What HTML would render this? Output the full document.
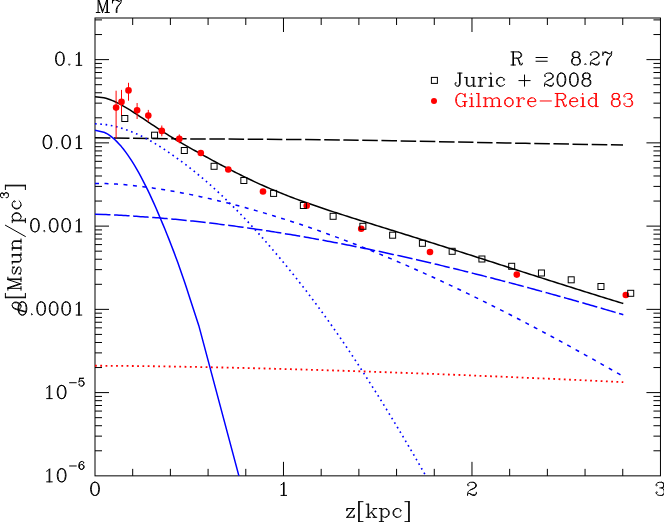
<!DOCTYPE html>
<html><head><meta charset="utf-8"><title>M7</title>
<style>html,body{margin:0;padding:0;background:#fff;}body{width:664px;height:522px;position:relative;overflow:hidden;font-family:"Liberation Serif",serif;}</style>
</head><body>
<svg width="664" height="522" viewBox="0 0 664 522" style="position:absolute;left:0;top:0">
<rect x="0" y="0" width="664" height="522" fill="#fff"/>
<defs><clipPath id="c"><rect x="95.0" y="18.0" width="565.45" height="457.85"/></clipPath></defs>
<path d="M132.70,475.85v-7 M132.70,18.0v7 M170.39,475.85v-7 M170.39,18.0v7 M208.09,475.85v-7 M208.09,18.0v7 M245.79,475.85v-7 M245.79,18.0v7 M283.48,475.85v-14 M283.48,18.0v14 M321.18,475.85v-7 M321.18,18.0v7 M358.88,475.85v-7 M358.88,18.0v7 M396.57,475.85v-7 M396.57,18.0v7 M434.27,475.85v-7 M434.27,18.0v7 M471.97,475.85v-14 M471.97,18.0v14 M509.66,475.85v-7 M509.66,18.0v7 M547.36,475.85v-7 M547.36,18.0v7 M585.06,475.85v-7 M585.06,18.0v7 M622.75,475.85v-7 M622.75,18.0v7 M95.0,450.79h7 M660.45,450.79h-7 M95.0,436.13h7 M660.45,436.13h-7 M95.0,425.73h7 M660.45,425.73h-7 M95.0,417.66h7 M660.45,417.66h-7 M95.0,411.07h7 M660.45,411.07h-7 M95.0,405.50h7 M660.45,405.50h-7 M95.0,400.67h7 M660.45,400.67h-7 M95.0,396.41h7 M660.45,396.41h-7 M95.0,392.60h14 M660.45,392.60h-14 M95.0,367.55h7 M660.45,367.55h-7 M95.0,352.89h7 M660.45,352.89h-7 M95.0,342.49h7 M660.45,342.49h-7 M95.0,334.42h7 M660.45,334.42h-7 M95.0,327.83h7 M660.45,327.83h-7 M95.0,322.25h7 M660.45,322.25h-7 M95.0,317.43h7 M660.45,317.43h-7 M95.0,313.17h7 M660.45,313.17h-7 M95.0,309.36h14 M660.45,309.36h-14 M95.0,284.30h7 M660.45,284.30h-7 M95.0,269.64h7 M660.45,269.64h-7 M95.0,259.24h7 M660.45,259.24h-7 M95.0,251.17h7 M660.45,251.17h-7 M95.0,244.58h7 M660.45,244.58h-7 M95.0,239.01h7 M660.45,239.01h-7 M95.0,234.18h7 M660.45,234.18h-7 M95.0,229.92h7 M660.45,229.92h-7 M95.0,226.11h14 M660.45,226.11h-14 M95.0,201.05h7 M660.45,201.05h-7 M95.0,186.40h7 M660.45,186.40h-7 M95.0,175.99h7 M660.45,175.99h-7 M95.0,167.93h7 M660.45,167.93h-7 M95.0,161.34h7 M660.45,161.34h-7 M95.0,155.76h7 M660.45,155.76h-7 M95.0,150.94h7 M660.45,150.94h-7 M95.0,146.68h7 M660.45,146.68h-7 M95.0,142.87h14 M660.45,142.87h-14 M95.0,117.81h7 M660.45,117.81h-7 M95.0,103.15h7 M660.45,103.15h-7 M95.0,92.75h7 M660.45,92.75h-7 M95.0,84.68h7 M660.45,84.68h-7 M95.0,78.09h7 M660.45,78.09h-7 M95.0,72.52h7 M660.45,72.52h-7 M95.0,67.69h7 M660.45,67.69h-7 M95.0,63.43h7 M660.45,63.43h-7 M95.0,59.62h14 M660.45,59.62h-14 M95.0,34.56h7 M660.45,34.56h-7 M95.0,19.90h7 M660.45,19.90h-7" stroke="#000" stroke-width="1" fill="none"/>
<rect x="95.0" y="18.0" width="565.45" height="457.85" fill="none" stroke="#000" stroke-width="1"/>
<g clip-path="url(#c)" fill="none">
<path d="M95.00,137.80 C109.17,137.97 138.17,138.43 180.00,138.80 C221.83,139.17 291.67,139.30 346.00,140.00 C400.33,140.70 459.83,142.17 506.00,143.00 C552.17,143.83 603.50,144.67 623.00,145.00" stroke="#000" stroke-width="1.5" stroke-dasharray="15.5 3.6"/>
<path d="M95.00,365.74 L103.80,365.77 L105.98,365.78 L108.15,365.79 L110.32,365.80 L112.50,365.82 L114.67,365.83 L116.84,365.85 L119.02,365.87 L121.19,365.88 L123.36,365.90 L125.54,365.92 L127.71,365.94 L129.89,365.97 L132.06,365.99 L134.23,366.01 L136.41,366.04 L138.58,366.06 L140.75,366.09 L142.93,366.11 L145.10,366.14 L147.27,366.17 L149.45,366.20 L151.62,366.23 L153.80,366.26 L155.97,366.29 L158.14,366.32 L160.32,366.35 L162.49,366.38 L164.66,366.42 L166.84,366.45 L169.01,366.49 L171.18,366.52 L173.36,366.56 L175.53,366.59 L177.71,366.63 L179.88,366.67 L182.05,366.70 L184.23,366.74 L186.40,366.78 L188.57,366.82 L190.75,366.86 L192.92,366.90 L195.09,366.94 L197.27,366.98 L199.44,367.02 L201.62,367.07 L203.79,367.11 L205.96,367.15 L208.14,367.20 L210.31,367.24 L212.48,367.29 L214.66,367.33 L216.83,367.38 L219.00,367.42 L221.18,367.47 L223.35,367.52 L225.53,367.57 L227.70,367.61 L229.87,367.66 L232.05,367.71 L234.22,367.76 L236.39,367.81 L238.57,367.86 L240.74,367.91 L242.91,367.96 L245.09,368.01 L247.26,368.07 L249.44,368.12 L251.61,368.17 L253.78,368.23 L255.96,368.28 L258.13,368.33 L260.30,368.39 L262.48,368.44 L264.65,368.50 L266.82,368.55 L269.00,368.61 L271.17,368.67 L273.35,368.73 L275.52,368.78 L277.69,368.84 L279.87,368.90 L282.04,368.96 L284.21,369.02 L286.39,369.08 L288.56,369.14 L290.73,369.20 L292.91,369.26 L295.08,369.32 L297.26,369.38 L299.43,369.44 L301.60,369.51 L303.78,369.57 L305.95,369.63 L308.12,369.70 L310.30,369.76 L312.47,369.82 L314.64,369.89 L316.82,369.95 L318.99,370.02 L321.17,370.09 L323.34,370.15 L325.51,370.22 L327.69,370.29 L329.86,370.35 L332.03,370.42 L334.21,370.49 L336.38,370.56 L338.55,370.63 L340.73,370.70 L342.90,370.77 L345.08,370.84 L347.25,370.91 L349.42,370.98 L351.60,371.05 L353.77,371.12 L355.94,371.19 L358.12,371.26 L360.29,371.34 L362.46,371.41 L364.64,371.48 L366.81,371.56 L368.99,371.63 L371.16,371.70 L373.33,371.78 L375.51,371.85 L377.68,371.93 L379.85,372.00 L382.03,372.08 L384.20,372.15 L386.37,372.23 L388.55,372.31 L390.72,372.38 L392.90,372.46 L395.07,372.54 L397.24,372.61 L399.42,372.69 L401.59,372.77 L403.76,372.85 L405.94,372.93 L408.11,373.01 L410.28,373.09 L412.46,373.17 L414.63,373.25 L416.81,373.33 L418.98,373.41 L421.15,373.49 L423.33,373.57 L425.50,373.65 L427.67,373.74 L429.85,373.82 L432.02,373.90 L434.19,373.98 L436.37,374.07 L438.54,374.15 L440.71,374.23 L442.89,374.32 L445.06,374.40 L447.24,374.49 L449.41,374.57 L451.58,374.66 L453.76,374.74 L455.93,374.83 L458.10,374.92 L460.28,375.00 L462.45,375.09 L464.62,375.18 L466.80,375.26 L468.97,375.35 L471.15,375.44 L473.32,375.53 L475.49,375.61 L477.67,375.70 L479.84,375.79 L482.01,375.88 L484.19,375.97 L486.36,376.06 L488.53,376.15 L490.71,376.24 L492.88,376.33 L495.06,376.42 L497.23,376.51 L499.40,376.60 L501.58,376.69 L503.75,376.79 L505.92,376.88 L508.10,376.97 L510.27,377.06 L512.44,377.15 L514.62,377.25 L516.79,377.34 L518.97,377.43 L521.14,377.53 L523.31,377.62 L525.49,377.71 L527.66,377.81 L529.83,377.90 L532.01,378.00 L534.18,378.09 L536.35,378.19 L538.53,378.28 L540.70,378.38 L542.88,378.47 L545.05,378.57 L547.22,378.67 L549.40,378.76 L551.57,378.86 L553.74,378.96 L555.92,379.05 L558.09,379.15 L560.26,379.25 L562.44,379.35 L564.61,379.44 L566.79,379.54 L568.96,379.64 L571.13,379.74 L573.31,379.84 L575.48,379.94 L577.65,380.04 L579.83,380.14 L582.00,380.23 L584.17,380.33 L586.35,380.43 L588.52,380.53 L590.70,380.63 L592.87,380.74 L595.04,380.84 L597.22,380.94 L599.39,381.04 L601.56,381.14 L603.74,381.24 L605.91,381.34 L608.08,381.44 L610.26,381.55 L612.43,381.65 L614.61,381.75 L616.78,381.85 L618.95,381.95 L621.13,382.06 L623.30,382.16" stroke="#f00" stroke-width="1.8" stroke-dasharray="1.8 3.47"/>
<path d="M95.00,214.28 L103.80,214.50 L105.98,214.57 L108.15,214.65 L110.32,214.74 L112.50,214.84 L114.67,214.94 L116.84,215.05 L119.02,215.16 L121.19,215.29 L123.36,215.41 L125.54,215.55 L127.71,215.69 L129.89,215.83 L132.06,215.99 L134.23,216.14 L136.41,216.31 L138.58,216.47 L140.75,216.63 L142.93,216.77 L145.10,216.92 L147.27,217.06 L149.45,217.22 L151.62,217.37 L153.80,217.54 L155.97,217.70 L158.14,217.87 L160.32,218.04 L162.49,218.22 L164.66,218.41 L166.84,218.59 L169.01,218.78 L171.18,218.97 L173.36,219.17 L175.53,219.37 L177.71,219.58 L179.88,219.79 L182.05,220.00 L184.23,220.21 L186.40,220.43 L188.57,220.66 L190.75,220.88 L192.92,221.11 L195.09,221.34 L197.27,221.58 L199.44,221.82 L201.62,222.06 L203.79,222.31 L205.96,222.56 L208.14,222.81 L210.31,223.06 L212.48,223.32 L214.66,223.59 L216.83,223.85 L219.00,224.12 L221.18,224.39 L223.35,224.66 L225.53,224.94 L227.70,225.22 L229.87,225.51 L232.05,225.79 L234.22,226.08 L236.39,226.37 L238.57,226.67 L240.74,226.97 L242.91,227.27 L245.09,227.57 L247.26,227.88 L249.44,228.19 L251.61,228.50 L253.78,228.82 L255.96,229.14 L258.13,229.46 L260.30,229.78 L262.48,230.11 L264.65,230.44 L266.82,230.77 L269.00,231.11 L271.17,231.45 L273.35,231.79 L275.52,232.13 L277.69,232.48 L279.87,232.82 L282.04,233.18 L284.21,233.53 L286.39,233.89 L288.56,234.25 L290.73,234.61 L292.91,234.97 L295.08,235.34 L297.26,235.71 L299.43,236.08 L301.60,236.46 L303.78,236.84 L305.95,237.22 L308.12,237.60 L310.30,237.99 L312.47,238.37 L314.64,238.76 L316.82,239.16 L318.99,239.55 L321.17,239.95 L323.34,240.35 L325.51,240.75 L327.69,241.16 L329.86,241.57 L332.03,241.98 L334.21,242.39 L336.38,242.81 L338.55,243.22 L340.73,243.64 L342.90,244.07 L345.08,244.49 L347.25,244.92 L349.42,245.35 L351.60,245.78 L353.77,246.21 L355.94,246.65 L358.12,247.09 L360.29,247.53 L362.46,247.97 L364.64,248.42 L366.81,248.86 L368.99,249.31 L371.16,249.77 L373.33,250.22 L375.51,250.68 L377.68,251.14 L379.85,251.60 L382.03,252.06 L384.20,252.53 L386.37,252.99 L388.55,253.46 L390.72,253.93 L392.90,254.41 L395.07,254.88 L397.24,255.36 L399.42,255.84 L401.59,256.33 L403.76,256.81 L405.94,257.30 L408.11,257.79 L410.28,258.28 L412.46,258.77 L414.63,259.26 L416.81,259.76 L418.98,260.26 L421.15,260.76 L423.33,261.26 L425.50,261.77 L427.67,262.27 L429.85,262.78 L432.02,263.29 L434.19,263.81 L436.37,264.32 L438.54,264.84 L440.71,265.36 L442.89,265.88 L445.06,266.40 L447.24,266.92 L449.41,267.45 L451.58,267.98 L453.76,268.51 L455.93,269.04 L458.10,269.57 L460.28,270.11 L462.45,270.64 L464.62,271.18 L466.80,271.72 L468.97,272.27 L471.15,272.81 L473.32,273.36 L475.49,273.90 L477.67,274.45 L479.84,275.00 L482.01,275.56 L484.19,276.11 L486.36,276.67 L488.53,277.23 L490.71,277.79 L492.88,278.35 L495.06,278.91 L497.23,279.48 L499.40,280.04 L501.58,280.61 L503.75,281.18 L505.92,281.75 L508.10,282.32 L510.27,282.90 L512.44,283.47 L514.62,284.05 L516.79,284.63 L518.97,285.21 L521.14,285.79 L523.31,286.38 L525.49,286.96 L527.66,287.55 L529.83,288.14 L532.01,288.73 L534.18,289.32 L536.35,289.91 L538.53,290.51 L540.70,291.10 L542.88,291.70 L545.05,292.30 L547.22,292.90 L549.40,293.50 L551.57,294.10 L553.74,294.71 L555.92,295.31 L558.09,295.92 L560.26,296.53 L562.44,297.14 L564.61,297.75 L566.79,298.36 L568.96,298.98 L571.13,299.59 L573.31,300.21 L575.48,300.82 L577.65,301.44 L579.83,302.06 L582.00,302.69 L584.17,303.31 L586.35,303.93 L588.52,304.56 L590.70,305.18 L592.87,305.81 L595.04,306.44 L597.22,307.07 L599.39,307.70 L601.56,308.34 L603.74,308.97 L605.91,309.60 L608.08,310.24 L610.26,310.88 L612.43,311.52 L614.61,312.15 L616.78,312.80 L618.95,313.44 L621.13,314.08 L623.30,314.72" stroke="#00f" stroke-width="1.5" stroke-dasharray="15.5 3.6"/>
<path d="M95.00,183.38 L103.80,183.50 L105.98,183.57 L108.15,183.65 L110.32,183.75 L112.50,183.86 L114.67,183.98 L116.84,184.12 L119.02,184.27 L121.19,184.43 L123.36,184.60 L125.54,184.79 L127.71,184.99 L129.89,185.19 L132.06,185.41 L134.23,185.64 L136.41,185.88 L138.58,186.13 L140.75,186.39 L142.93,186.66 L145.10,186.94 L147.27,187.23 L149.45,187.52 L151.62,187.83 L153.80,188.14 L155.97,188.46 L158.14,188.79 L160.32,189.13 L162.49,189.47 L164.66,189.83 L166.84,190.19 L169.01,190.55 L171.18,190.93 L173.36,191.31 L175.53,191.70 L177.71,192.10 L179.88,192.50 L182.05,192.91 L184.23,193.33 L186.40,193.75 L188.57,194.19 L190.75,194.62 L192.92,195.07 L195.09,195.52 L197.27,195.98 L199.44,196.44 L201.62,196.91 L203.79,197.39 L205.96,197.87 L208.14,198.36 L210.31,198.85 L212.48,199.36 L214.66,199.86 L216.83,200.38 L219.00,200.90 L221.18,201.42 L223.35,201.95 L225.53,202.49 L227.70,203.03 L229.87,203.58 L232.05,204.14 L234.22,204.70 L236.39,205.27 L238.57,205.84 L240.74,206.42 L242.91,207.00 L245.09,207.59 L247.26,208.19 L249.44,208.79 L251.61,209.39 L253.78,210.00 L255.96,210.62 L258.13,211.24 L260.30,211.87 L262.48,212.51 L264.65,213.14 L266.82,213.79 L269.00,214.44 L271.17,215.09 L273.35,215.75 L275.52,216.42 L277.69,217.09 L279.87,217.77 L282.04,218.45 L284.21,219.13 L286.39,219.82 L288.56,220.52 L290.73,221.22 L292.91,221.93 L295.08,222.64 L297.26,223.36 L299.43,224.08 L301.60,224.81 L303.78,225.54 L305.95,226.28 L308.12,227.02 L310.30,227.77 L312.47,228.52 L314.64,229.28 L316.82,230.04 L318.99,230.80 L321.17,231.57 L323.34,232.35 L325.51,233.13 L327.69,233.92 L329.86,234.71 L332.03,235.50 L334.21,236.30 L336.38,237.11 L338.55,237.91 L340.73,238.73 L342.90,239.55 L345.08,240.37 L347.25,241.20 L349.42,242.03 L351.60,242.86 L353.77,243.70 L355.94,244.55 L358.12,245.40 L360.29,246.25 L362.46,247.11 L364.64,247.98 L366.81,248.84 L368.99,249.72 L371.16,250.59 L373.33,251.47 L375.51,252.36 L377.68,253.25 L379.85,254.14 L382.03,255.04 L384.20,255.94 L386.37,256.84 L388.55,257.75 L390.72,258.67 L392.90,259.59 L395.07,260.51 L397.24,261.44 L399.42,262.37 L401.59,263.30 L403.76,264.24 L405.94,265.18 L408.11,266.13 L410.28,267.08 L412.46,268.04 L414.63,268.99 L416.81,269.96 L418.98,270.92 L421.15,271.89 L423.33,272.87 L425.50,273.85 L427.67,274.83 L429.85,275.81 L432.02,276.80 L434.19,277.80 L436.37,278.79 L438.54,279.80 L440.71,280.80 L442.89,281.81 L445.06,282.82 L447.24,283.84 L449.41,284.86 L451.58,285.88 L453.76,286.90 L455.93,287.93 L458.10,288.97 L460.28,290.01 L462.45,291.05 L464.62,292.09 L466.80,293.14 L468.97,294.19 L471.15,295.24 L473.32,296.30 L475.49,297.36 L477.67,298.43 L479.84,299.49 L482.01,300.57 L484.19,301.64 L486.36,302.72 L488.53,303.80 L490.71,304.88 L492.88,305.97 L495.06,307.06 L497.23,308.16 L499.40,309.26 L501.58,310.36 L503.75,311.46 L505.92,312.57 L508.10,313.68 L510.27,314.79 L512.44,315.91 L514.62,317.03 L516.79,318.15 L518.97,319.27 L521.14,320.40 L523.31,321.53 L525.49,322.67 L527.66,323.80 L529.83,324.94 L532.01,326.09 L534.18,327.23 L536.35,328.38 L538.53,329.53 L540.70,330.69 L542.88,331.84 L545.05,333.00 L547.22,334.17 L549.40,335.33 L551.57,336.50 L553.74,337.67 L555.92,338.85 L558.09,340.02 L560.26,341.20 L562.44,342.38 L564.61,343.57 L566.79,344.75 L568.96,345.94 L571.13,347.13 L573.31,348.33 L575.48,349.53 L577.65,350.72 L579.83,351.93 L582.00,353.13 L584.17,354.34 L586.35,355.55 L588.52,356.76 L590.70,357.97 L592.87,359.19 L595.04,360.41 L597.22,361.63 L599.39,362.85 L601.56,364.08 L603.74,365.31 L605.91,366.54 L608.08,367.77 L610.26,369.00 L612.43,370.24 L614.61,371.48 L616.78,372.72 L618.95,373.96 L621.13,375.21 L623.30,376.46" stroke="#00f" stroke-width="1.5" stroke-dasharray="4.0 5.5"/>
<path d="M95.00,123.78 L103.80,124.34 L105.98,124.63 L108.15,124.97 L110.32,125.36 L112.50,125.81 L114.67,126.31 L116.84,126.86 L119.02,127.46 L121.19,128.11 L123.36,128.81 L125.54,129.55 L127.71,130.32 L129.89,131.14 L132.06,132.00 L134.23,132.90 L136.41,133.84 L138.58,134.81 L140.75,135.83 L142.93,136.88 L145.10,137.97 L147.27,139.09 L149.45,140.24 L151.62,141.48 L153.80,142.76 L155.97,144.08 L158.14,145.42 L160.32,146.80 L162.49,148.21 L164.66,149.64 L166.84,151.11 L169.01,152.61 L171.18,154.13 L173.36,155.68 L175.53,157.25 L177.71,158.79 L179.88,160.35 L182.05,161.94 L184.23,163.56 L186.40,165.21 L188.57,166.88 L190.75,168.58 L192.92,170.30 L195.09,172.05 L197.27,173.82 L199.44,175.62 L201.62,177.44 L203.79,179.29 L205.96,181.16 L208.14,183.06 L210.31,184.98 L212.48,186.92 L214.66,188.89 L216.83,190.88 L219.00,192.90 L221.18,194.93 L223.35,196.99 L225.53,199.08 L227.70,201.18 L229.87,203.31 L232.05,205.47 L234.22,207.64 L236.39,209.84 L238.57,212.06 L240.74,214.30 L242.91,216.56 L245.09,218.84 L247.26,221.15 L249.44,223.48 L251.61,225.83 L253.78,228.20 L255.96,230.59 L258.13,233.01 L260.30,235.44 L262.48,237.90 L264.65,240.37 L266.82,242.87 L269.00,245.39 L271.17,247.91 L273.35,250.42 L275.52,252.96 L277.69,255.52 L279.87,258.10 L282.04,260.70 L284.21,263.32 L286.39,265.96 L288.56,268.62 L290.73,271.30 L292.91,274.00 L295.08,276.72 L297.26,279.45 L299.43,282.21 L301.60,284.99 L303.78,287.79 L305.95,290.60 L308.12,293.44 L310.30,296.29 L312.47,299.16 L314.64,302.06 L316.82,304.97 L318.99,307.93 L321.17,310.91 L323.34,313.91 L325.51,316.92 L327.69,319.96 L329.86,323.01 L332.03,326.09 L334.21,329.18 L336.38,332.29 L338.55,335.41 L340.73,338.56 L342.90,341.73 L345.08,344.94 L347.25,348.16 L349.42,351.40 L351.60,354.66 L353.77,357.94 L355.94,361.23 L358.12,364.54 L360.29,367.87 L362.46,371.21 L364.64,374.58 L366.81,377.96 L368.99,381.35 L371.16,384.76 L373.33,388.19 L375.51,391.64 L377.68,395.10 L379.85,398.58 L382.03,402.08 L384.20,405.59 L386.37,409.12 L388.55,412.66 L390.72,416.22 L392.90,419.79 L395.07,423.39 L397.24,426.99 L399.42,430.62 L401.59,434.26 L403.76,437.91 L405.94,441.58 L408.11,445.27 L410.28,448.97 L412.46,452.68 L414.63,456.42 L416.81,460.16 L418.98,463.93 L421.15,467.70 L423.33,471.50 L425.50,475.30 L427.67,479.11 L429.85,482.93 L432.02,486.77 L434.19,490.62 L436.37,494.48 L438.54,498.36 L440.71,502.26" stroke="#00f" stroke-width="1.65" stroke-dasharray="1.65 3.65"/>
<path d="M95.00,130.30 L103.80,132.18 L105.98,133.22 L108.15,134.47 L110.32,135.94 L112.50,137.63 L114.67,139.52 L116.84,141.61 L119.02,143.90 L121.19,146.37 L123.36,149.04 L125.54,151.88 L127.71,154.90 L129.89,158.09 L132.06,161.44 L134.23,164.95 L136.41,168.62 L138.58,172.45 L140.75,176.42 L142.93,180.53 L145.10,184.79 L147.27,189.18 L149.45,193.70 L151.62,198.36 L153.80,203.15 L155.97,208.07 L158.14,213.10 L160.32,218.24 L162.49,223.34 L164.66,228.57 L166.84,233.91 L169.01,239.36 L171.18,244.93 L173.36,250.61 L175.53,256.40 L177.71,262.29 L179.88,268.39 L182.05,274.67 L184.23,281.06 L186.40,287.55 L188.57,294.15 L190.60,300.40 L198.75,325.40 L238.90,475.85 L242.90,490.80" stroke="#00f" stroke-width="1.5" stroke-linejoin="round"/>
<path d="M95.00,96.77 L103.80,97.80 L105.98,98.34 L108.15,99.00 L110.32,99.75 L112.50,100.60 L114.67,101.54 L116.84,102.55 L119.02,103.65 L121.19,104.81 L123.36,106.03 L125.54,107.30 L127.71,108.61 L129.89,109.96 L132.06,111.34 L134.23,112.75 L136.41,114.17 L138.58,115.61 L140.75,117.05 L142.93,118.49 L145.10,119.94 L147.27,121.38 L149.45,122.82 L151.62,124.28 L153.80,125.73 L155.97,127.18 L158.14,128.61 L160.32,130.02 L162.49,131.42 L164.66,132.80 L166.84,134.17 L169.01,135.53 L171.18,136.88 L173.36,138.21 L175.53,139.53 L177.71,140.81 L179.88,142.08 L182.05,143.34 L184.23,144.59 L186.40,145.84 L188.57,147.08 L190.75,148.31 L192.92,149.53 L195.09,150.75 L197.27,151.97 L199.44,153.18 L201.62,154.38 L203.79,155.58 L205.96,156.77 L208.14,157.96 L210.31,159.15 L212.48,160.32 L214.66,161.50 L216.83,162.66 L219.00,163.83 L221.18,164.98 L223.35,166.13 L225.53,167.27 L227.70,168.40 L229.87,169.53 L232.05,170.65 L234.22,171.76 L236.39,172.86 L238.57,173.95 L240.74,175.03 L242.91,176.10 L245.09,177.16 L247.26,178.22 L249.44,179.26 L251.61,180.29 L253.78,181.31 L255.96,182.32 L258.13,183.32 L260.30,184.31 L262.48,185.28 L264.65,186.25 L266.82,187.20 L269.00,188.14 L271.17,189.07 L273.35,189.98 L275.52,190.89 L277.69,191.78 L279.87,192.66 L282.04,193.54 L284.21,194.40 L286.39,195.26 L288.56,196.10 L290.73,196.94 L292.91,197.77 L295.08,198.59 L297.26,199.40 L299.43,200.20 L301.60,200.99 L303.78,201.77 L305.95,202.55 L308.12,203.32 L310.30,204.08 L312.47,204.83 L314.64,205.58 L316.82,206.32 L318.99,207.06 L321.17,207.80 L323.34,208.53 L325.51,209.25 L327.69,209.97 L329.86,210.69 L332.03,211.40 L334.21,212.11 L336.38,212.81 L338.55,213.52 L340.73,214.22 L342.90,214.91 L345.08,215.61 L347.25,216.30 L349.42,216.99 L351.60,217.68 L353.77,218.36 L355.94,219.05 L358.12,219.73 L360.29,220.42 L362.46,221.10 L364.64,221.78 L366.81,222.46 L368.99,223.14 L371.16,223.81 L373.33,224.49 L375.51,225.17 L377.68,225.85 L379.85,226.52 L382.03,227.20 L384.20,227.88 L386.37,228.55 L388.55,229.23 L390.72,229.91 L392.90,230.59 L395.07,231.26 L397.24,231.94 L399.42,232.62 L401.59,233.30 L403.76,233.98 L405.94,234.66 L408.11,235.34 L410.28,236.02 L412.46,236.70 L414.63,237.38 L416.81,238.07 L418.98,238.75 L421.15,239.43 L423.33,240.12 L425.50,240.80 L427.67,241.49 L429.85,242.17 L432.02,242.86 L434.19,243.54 L436.37,244.23 L438.54,244.92 L440.71,245.61 L442.89,246.30 L445.06,246.99 L447.24,247.69 L449.41,248.38 L451.58,249.08 L453.76,249.77 L455.93,250.47 L458.10,251.16 L460.28,251.86 L462.45,252.56 L464.62,253.25 L466.80,253.95 L468.97,254.65 L471.15,255.34 L473.32,256.04 L475.49,256.74 L477.67,257.44 L479.84,258.14 L482.01,258.83 L484.19,259.53 L486.36,260.23 L488.53,260.93 L490.71,261.63 L492.88,262.33 L495.06,263.03 L497.23,263.73 L499.40,264.42 L501.58,265.12 L503.75,265.82 L505.92,266.52 L508.10,267.22 L510.27,267.92 L512.44,268.61 L514.62,269.31 L516.79,270.01 L518.97,270.70 L521.14,271.40 L523.31,272.10 L525.49,272.79 L527.66,273.49 L529.83,274.18 L532.01,274.88 L534.18,275.57 L536.35,276.27 L538.53,276.96 L540.70,277.65 L542.88,278.35 L545.05,279.04 L547.22,279.73 L549.40,280.42 L551.57,281.11 L553.74,281.80 L555.92,282.49 L558.09,283.18 L560.26,283.87 L562.44,284.56 L564.61,285.25 L566.79,285.94 L568.96,286.63 L571.13,287.31 L573.31,288.00 L575.48,288.69 L577.65,289.37 L579.83,290.06 L582.00,290.74 L584.17,291.42 L586.35,292.11 L588.52,292.79 L590.70,293.47 L592.87,294.15 L595.04,294.82 L597.22,295.50 L599.39,296.18 L601.56,296.85 L603.74,297.53 L605.91,298.20 L608.08,298.87 L610.26,299.54 L612.43,300.21 L614.61,300.88 L616.78,301.55 L618.95,302.22 L621.13,302.88 L623.30,303.55" stroke="#000" stroke-width="1.5" stroke-linejoin="round"/>
</g>
<path d="M116.10,90.7V138.3" stroke="#f00" stroke-width="1"/>
<circle cx="116.10" cy="107.60" r="3.3" fill="#f00"/>
<path d="M121.50,89.9V116" stroke="#f00" stroke-width="1"/>
<circle cx="121.50" cy="101.90" r="3.3" fill="#f00"/>
<path d="M128.50,82.8V100.7" stroke="#f00" stroke-width="1"/>
<circle cx="128.50" cy="90.40" r="3.3" fill="#f00"/>
<path d="M137.10,103V119" stroke="#f00" stroke-width="1"/>
<circle cx="137.10" cy="110.30" r="3.3" fill="#f00"/>
<path d="M148.30,109.9V122" stroke="#f00" stroke-width="1"/>
<circle cx="148.30" cy="115.60" r="3.3" fill="#f00"/>
<path d="M161.80,125.5V136.3" stroke="#f00" stroke-width="1"/>
<circle cx="161.80" cy="130.90" r="3.3" fill="#f00"/>
<path d="M179.30,134.4V143.3" stroke="#f00" stroke-width="1"/>
<circle cx="179.30" cy="138.90" r="3.3" fill="#f00"/>
<circle cx="200.80" cy="153.00" r="3.3" fill="#f00"/>
<circle cx="228.30" cy="169.50" r="3.3" fill="#f00"/>
<circle cx="263.00" cy="191.50" r="3.3" fill="#f00"/>
<circle cx="306.70" cy="205.80" r="3.3" fill="#f00"/>
<circle cx="361.20" cy="228.80" r="3.3" fill="#f00"/>
<circle cx="430.00" cy="252.00" r="3.3" fill="#f00"/>
<circle cx="516.80" cy="274.60" r="3.3" fill="#f00"/>
<circle cx="625.80" cy="295.00" r="3.3" fill="#f00"/>
<rect x="121.80" y="115.50" width="6" height="6" fill="none" stroke="#000" stroke-width="1"/>
<rect x="151.56" y="132.20" width="6" height="6" fill="none" stroke="#000" stroke-width="1"/>
<rect x="181.32" y="147.50" width="6" height="6" fill="none" stroke="#000" stroke-width="1"/>
<rect x="211.08" y="163.30" width="6" height="6" fill="none" stroke="#000" stroke-width="1"/>
<rect x="240.84" y="177.50" width="6" height="6" fill="none" stroke="#000" stroke-width="1"/>
<rect x="270.60" y="190.40" width="6" height="6" fill="none" stroke="#000" stroke-width="1"/>
<rect x="300.36" y="202.50" width="6" height="6" fill="none" stroke="#000" stroke-width="1"/>
<rect x="330.12" y="213.30" width="6" height="6" fill="none" stroke="#000" stroke-width="1"/>
<rect x="359.88" y="223.30" width="6" height="6" fill="none" stroke="#000" stroke-width="1"/>
<rect x="389.64" y="232.20" width="6" height="6" fill="none" stroke="#000" stroke-width="1"/>
<rect x="419.40" y="240.30" width="6" height="6" fill="none" stroke="#000" stroke-width="1"/>
<rect x="449.16" y="248.30" width="6" height="6" fill="none" stroke="#000" stroke-width="1"/>
<rect x="478.92" y="256.00" width="6" height="6" fill="none" stroke="#000" stroke-width="1"/>
<rect x="508.68" y="263.30" width="6" height="6" fill="none" stroke="#000" stroke-width="1"/>
<rect x="538.44" y="270.00" width="6" height="6" fill="none" stroke="#000" stroke-width="1"/>
<rect x="568.20" y="276.80" width="6" height="6" fill="none" stroke="#000" stroke-width="1"/>
<rect x="597.96" y="283.50" width="6" height="6" fill="none" stroke="#000" stroke-width="1"/>
<rect x="627.72" y="290.30" width="6" height="6" fill="none" stroke="#000" stroke-width="1"/>
<rect x="431.4" y="77.4" width="6" height="6" fill="none" stroke="#000" stroke-width="1"/>
<circle cx="434" cy="101" r="3" fill="#f00"/>
<path d="M98.12,-0.62 L98.12,12.50 M98.75,-0.62 L102.50,10.62 M98.12,-0.62 L102.50,12.50 M106.88,-0.62 L102.50,12.50 M106.88,-0.62 L106.88,12.50 M107.50,-0.62 L107.50,12.50 M96.25,-0.62 L98.75,-0.62 M106.88,-0.62 L109.38,-0.62 M96.25,12.50 L100.00,12.50 M105.00,12.50 L109.38,12.50 M112.50,-0.62 L112.50,3.12 M112.50,1.88 L113.12,0.62 L114.38,-0.62 L115.62,-0.62 L118.75,1.25 L120.00,1.25 L120.62,0.62 L121.25,-0.62 M113.12,0.62 L114.38,0.00 L115.62,0.00 L118.75,1.25 M121.25,-0.62 L121.25,1.25 L120.62,3.12 L118.12,6.25 L117.50,7.50 L116.88,9.38 L116.88,12.50 M120.62,3.12 L117.50,6.25 L116.88,7.50 L116.25,9.38 L116.25,12.50 M59.30,52.20 L57.42,52.82 L56.17,54.70 L55.55,57.82 L55.55,59.70 L56.17,62.82 L57.42,64.70 L59.30,65.32 L60.55,65.32 L62.42,64.70 L63.67,62.82 L64.30,59.70 L64.30,57.82 L63.67,54.70 L62.42,52.82 L60.55,52.20 L59.30,52.20 M59.30,52.20 L58.05,52.82 L57.42,53.45 L56.80,54.70 L56.17,57.82 L56.17,59.70 L56.80,62.82 L57.42,64.07 L58.05,64.70 L59.30,65.32 M60.55,65.32 L61.80,64.70 L62.42,64.07 L63.05,62.82 L63.67,59.70 L63.67,57.82 L63.05,54.70 L62.42,53.45 L61.80,52.82 L60.55,52.20 M69.30,64.07 L68.67,64.70 L69.30,65.32 L69.92,64.70 L69.30,64.07 M76.17,54.70 L77.42,54.07 L79.30,52.20 L79.30,65.32 M78.67,52.82 L78.67,65.32 M76.17,65.32 L81.80,65.32 M46.80,135.44 L44.92,136.07 L43.67,137.94 L43.05,141.07 L43.05,142.94 L43.67,146.07 L44.92,147.94 L46.80,148.57 L48.05,148.57 L49.92,147.94 L51.17,146.07 L51.80,142.94 L51.80,141.07 L51.17,137.94 L49.92,136.07 L48.05,135.44 L46.80,135.44 M46.80,135.44 L45.55,136.07 L44.92,136.69 L44.30,137.94 L43.67,141.07 L43.67,142.94 L44.30,146.07 L44.92,147.32 L45.55,147.94 L46.80,148.57 M48.05,148.57 L49.30,147.94 L49.92,147.32 L50.55,146.07 L51.17,142.94 L51.17,141.07 L50.55,137.94 L49.92,136.69 L49.30,136.07 L48.05,135.44 M56.80,147.32 L56.17,147.94 L56.80,148.57 L57.42,147.94 L56.80,147.32 M65.55,135.44 L63.67,136.07 L62.42,137.94 L61.80,141.07 L61.80,142.94 L62.42,146.07 L63.67,147.94 L65.55,148.57 L66.80,148.57 L68.67,147.94 L69.92,146.07 L70.55,142.94 L70.55,141.07 L69.92,137.94 L68.67,136.07 L66.80,135.44 L65.55,135.44 M65.55,135.44 L64.30,136.07 L63.67,136.69 L63.05,137.94 L62.42,141.07 L62.42,142.94 L63.05,146.07 L63.67,147.32 L64.30,147.94 L65.55,148.57 M66.80,148.57 L68.05,147.94 L68.67,147.32 L69.30,146.07 L69.92,142.94 L69.92,141.07 L69.30,137.94 L68.67,136.69 L68.05,136.07 L66.80,135.44 M76.17,137.94 L77.42,137.32 L79.30,135.44 L79.30,148.57 M78.67,136.07 L78.67,148.57 M76.17,148.57 L81.80,148.57 M34.30,218.69 L32.42,219.31 L31.17,221.19 L30.55,224.31 L30.55,226.19 L31.17,229.31 L32.42,231.19 L34.30,231.81 L35.55,231.81 L37.42,231.19 L38.67,229.31 L39.30,226.19 L39.30,224.31 L38.67,221.19 L37.42,219.31 L35.55,218.69 L34.30,218.69 M34.30,218.69 L33.05,219.31 L32.42,219.94 L31.80,221.19 L31.17,224.31 L31.17,226.19 L31.80,229.31 L32.42,230.56 L33.05,231.19 L34.30,231.81 M35.55,231.81 L36.80,231.19 L37.42,230.56 L38.05,229.31 L38.67,226.19 L38.67,224.31 L38.05,221.19 L37.42,219.94 L36.80,219.31 L35.55,218.69 M44.30,230.56 L43.67,231.19 L44.30,231.81 L44.92,231.19 L44.30,230.56 M53.05,218.69 L51.17,219.31 L49.92,221.19 L49.30,224.31 L49.30,226.19 L49.92,229.31 L51.17,231.19 L53.05,231.81 L54.30,231.81 L56.17,231.19 L57.42,229.31 L58.05,226.19 L58.05,224.31 L57.42,221.19 L56.17,219.31 L54.30,218.69 L53.05,218.69 M53.05,218.69 L51.80,219.31 L51.17,219.94 L50.55,221.19 L49.92,224.31 L49.92,226.19 L50.55,229.31 L51.17,230.56 L51.80,231.19 L53.05,231.81 M54.30,231.81 L55.55,231.19 L56.17,230.56 L56.80,229.31 L57.42,226.19 L57.42,224.31 L56.80,221.19 L56.17,219.94 L55.55,219.31 L54.30,218.69 M65.55,218.69 L63.67,219.31 L62.42,221.19 L61.80,224.31 L61.80,226.19 L62.42,229.31 L63.67,231.19 L65.55,231.81 L66.80,231.81 L68.67,231.19 L69.92,229.31 L70.55,226.19 L70.55,224.31 L69.92,221.19 L68.67,219.31 L66.80,218.69 L65.55,218.69 M65.55,218.69 L64.30,219.31 L63.67,219.94 L63.05,221.19 L62.42,224.31 L62.42,226.19 L63.05,229.31 L63.67,230.56 L64.30,231.19 L65.55,231.81 M66.80,231.81 L68.05,231.19 L68.67,230.56 L69.30,229.31 L69.92,226.19 L69.92,224.31 L69.30,221.19 L68.67,219.94 L68.05,219.31 L66.80,218.69 M76.17,221.19 L77.42,220.56 L79.30,218.69 L79.30,231.81 M78.67,219.31 L78.67,231.81 M76.17,231.81 L81.80,231.81 M21.80,301.93 L19.92,302.56 L18.67,304.43 L18.05,307.56 L18.05,309.43 L18.67,312.56 L19.92,314.43 L21.80,315.06 L23.05,315.06 L24.92,314.43 L26.17,312.56 L26.80,309.43 L26.80,307.56 L26.17,304.43 L24.92,302.56 L23.05,301.93 L21.80,301.93 M21.80,301.93 L20.55,302.56 L19.92,303.18 L19.30,304.43 L18.67,307.56 L18.67,309.43 L19.30,312.56 L19.92,313.81 L20.55,314.43 L21.80,315.06 M23.05,315.06 L24.30,314.43 L24.92,313.81 L25.55,312.56 L26.17,309.43 L26.17,307.56 L25.55,304.43 L24.92,303.18 L24.30,302.56 L23.05,301.93 M31.80,313.81 L31.17,314.43 L31.80,315.06 L32.42,314.43 L31.80,313.81 M40.55,301.93 L38.67,302.56 L37.42,304.43 L36.80,307.56 L36.80,309.43 L37.42,312.56 L38.67,314.43 L40.55,315.06 L41.80,315.06 L43.67,314.43 L44.92,312.56 L45.55,309.43 L45.55,307.56 L44.92,304.43 L43.67,302.56 L41.80,301.93 L40.55,301.93 M40.55,301.93 L39.30,302.56 L38.67,303.18 L38.05,304.43 L37.42,307.56 L37.42,309.43 L38.05,312.56 L38.67,313.81 L39.30,314.43 L40.55,315.06 M41.80,315.06 L43.05,314.43 L43.67,313.81 L44.30,312.56 L44.92,309.43 L44.92,307.56 L44.30,304.43 L43.67,303.18 L43.05,302.56 L41.80,301.93 M53.05,301.93 L51.17,302.56 L49.92,304.43 L49.30,307.56 L49.30,309.43 L49.92,312.56 L51.17,314.43 L53.05,315.06 L54.30,315.06 L56.17,314.43 L57.42,312.56 L58.05,309.43 L58.05,307.56 L57.42,304.43 L56.17,302.56 L54.30,301.93 L53.05,301.93 M53.05,301.93 L51.80,302.56 L51.17,303.18 L50.55,304.43 L49.92,307.56 L49.92,309.43 L50.55,312.56 L51.17,313.81 L51.80,314.43 L53.05,315.06 M54.30,315.06 L55.55,314.43 L56.17,313.81 L56.80,312.56 L57.42,309.43 L57.42,307.56 L56.80,304.43 L56.17,303.18 L55.55,302.56 L54.30,301.93 M65.55,301.93 L63.67,302.56 L62.42,304.43 L61.80,307.56 L61.80,309.43 L62.42,312.56 L63.67,314.43 L65.55,315.06 L66.80,315.06 L68.67,314.43 L69.92,312.56 L70.55,309.43 L70.55,307.56 L69.92,304.43 L68.67,302.56 L66.80,301.93 L65.55,301.93 M65.55,301.93 L64.30,302.56 L63.67,303.18 L63.05,304.43 L62.42,307.56 L62.42,309.43 L63.05,312.56 L63.67,313.81 L64.30,314.43 L65.55,315.06 M66.80,315.06 L68.05,314.43 L68.67,313.81 L69.30,312.56 L69.92,309.43 L69.92,307.56 L69.30,304.43 L68.67,303.18 L68.05,302.56 L66.80,301.93 M76.17,304.43 L77.42,303.81 L79.30,301.93 L79.30,315.06 M78.67,302.56 L78.67,315.06 M76.17,315.06 L81.80,315.06 M46.65,387.98 L47.90,387.35 L49.77,385.48 L49.77,398.60 M49.15,386.10 L49.15,398.60 M46.65,398.60 L52.27,398.60 M61.02,385.48 L59.15,386.10 L57.90,387.98 L57.27,391.10 L57.27,392.98 L57.90,396.10 L59.15,397.98 L61.02,398.60 L62.27,398.60 L64.15,397.98 L65.40,396.10 L66.03,392.98 L66.03,391.10 L65.40,387.98 L64.15,386.10 L62.27,385.48 L61.02,385.48 M61.02,385.48 L59.77,386.10 L59.15,386.73 L58.52,387.98 L57.90,391.10 L57.90,392.98 L58.52,396.10 L59.15,397.35 L59.77,397.98 L61.02,398.60 M62.27,398.60 L63.52,397.98 L64.15,397.35 L64.78,396.10 L65.40,392.98 L65.40,391.10 L64.78,387.98 L64.15,386.73 L63.52,386.10 L62.27,385.48 M69.55,382.73 L76.30,382.73 M79.67,378.23 L78.92,381.98 M78.92,381.98 L79.67,381.23 L80.80,380.85 L81.92,380.85 L83.05,381.23 L83.80,381.98 L84.17,383.10 L84.17,383.85 L83.80,384.98 L83.05,385.73 L81.92,386.10 L80.80,386.10 L79.67,385.73 L79.30,385.35 L78.92,384.60 L78.92,384.23 L79.30,383.85 L79.67,384.23 L79.30,384.60 M81.92,380.85 L82.67,381.23 L83.42,381.98 L83.80,383.10 L83.80,383.85 L83.42,384.98 L82.67,385.73 L81.92,386.10 M79.67,378.23 L83.42,378.23 M79.67,378.60 L81.55,378.60 L83.42,378.23 M46.65,471.23 L47.90,470.60 L49.77,468.73 L49.77,481.85 M49.15,469.35 L49.15,481.85 M46.65,481.85 L52.27,481.85 M61.02,468.73 L59.15,469.35 L57.90,471.23 L57.27,474.35 L57.27,476.23 L57.90,479.35 L59.15,481.23 L61.02,481.85 L62.27,481.85 L64.15,481.23 L65.40,479.35 L66.03,476.23 L66.03,474.35 L65.40,471.23 L64.15,469.35 L62.27,468.73 L61.02,468.73 M61.02,468.73 L59.77,469.35 L59.15,469.98 L58.52,471.23 L57.90,474.35 L57.90,476.23 L58.52,479.35 L59.15,480.60 L59.77,481.23 L61.02,481.85 M62.27,481.85 L63.52,481.23 L64.15,480.60 L64.78,479.35 L65.40,476.23 L65.40,474.35 L64.78,471.23 L64.15,469.98 L63.52,469.35 L62.27,468.73 M69.55,465.98 L76.30,465.98 M83.42,462.60 L83.05,462.98 L83.42,463.35 L83.80,462.98 L83.80,462.60 L83.42,461.85 L82.67,461.48 L81.55,461.48 L80.42,461.85 L79.67,462.60 L79.30,463.35 L78.92,464.85 L78.92,467.10 L79.30,468.23 L80.05,468.98 L81.17,469.35 L81.92,469.35 L83.05,468.98 L83.80,468.23 L84.17,467.10 L84.17,466.73 L83.80,465.60 L83.05,464.85 L81.92,464.48 L81.55,464.48 L80.42,464.85 L79.67,465.60 L79.30,466.73 M81.55,461.48 L80.80,461.85 L80.05,462.60 L79.67,463.35 L79.30,464.85 L79.30,467.10 L79.67,468.23 L80.42,468.98 L81.17,469.35 M81.92,469.35 L82.67,468.98 L83.42,468.23 L83.80,467.10 L83.80,466.73 L83.42,465.60 L82.67,464.85 L81.92,464.48 M94.38,482.27 L92.50,482.90 L91.25,484.77 L90.62,487.90 L90.62,489.77 L91.25,492.90 L92.50,494.77 L94.38,495.40 L95.62,495.40 L97.50,494.77 L98.75,492.90 L99.38,489.77 L99.38,487.90 L98.75,484.77 L97.50,482.90 L95.62,482.27 L94.38,482.27 M94.38,482.27 L93.12,482.90 L92.50,483.52 L91.88,484.77 L91.25,487.90 L91.25,489.77 L91.88,492.90 L92.50,494.15 L93.12,494.77 L94.38,495.40 M95.62,495.40 L96.88,494.77 L97.50,494.15 L98.12,492.90 L98.75,489.77 L98.75,487.90 L98.12,484.77 L97.50,483.52 L96.88,482.90 L95.62,482.27 M280.98,484.77 L282.23,484.15 L284.11,482.27 L284.11,495.40 M283.48,482.90 L283.48,495.40 M280.98,495.40 L286.61,495.40 M468.22,484.77 L468.84,485.40 L468.22,486.02 L467.59,485.40 L467.59,484.77 L468.22,483.52 L468.84,482.90 L470.72,482.27 L473.22,482.27 L475.09,482.90 L475.72,483.52 L476.34,484.77 L476.34,486.02 L475.72,487.27 L473.84,488.52 L470.72,489.77 L469.47,490.40 L468.22,491.65 L467.59,493.52 L467.59,495.40 M473.22,482.27 L474.47,482.90 L475.09,483.52 L475.72,484.77 L475.72,486.02 L475.09,487.27 L473.22,488.52 L470.72,489.77 M467.59,494.15 L468.22,493.52 L469.47,493.52 L472.59,494.77 L474.47,494.77 L475.72,494.15 L476.34,493.52 M469.47,493.52 L472.59,495.40 L475.09,495.40 L475.72,494.77 L476.34,493.52 L476.34,492.27 M656.70,484.77 L657.33,485.40 L656.70,486.02 L656.08,485.40 L656.08,484.77 L656.70,483.52 L657.33,482.90 L659.20,482.27 L661.70,482.27 L663.58,482.90 L664.20,484.15 L664.20,486.02 L663.58,487.27 L661.70,487.90 L659.83,487.90 M661.70,482.27 L662.95,482.90 L663.58,484.15 L663.58,486.02 L662.95,487.27 L661.70,487.90 M661.70,487.90 L662.95,488.52 L664.20,489.77 L664.83,491.02 L664.83,492.90 L664.20,494.15 L663.58,494.77 L661.70,495.40 L659.20,495.40 L657.33,494.77 L656.70,494.15 L656.08,492.90 L656.08,492.27 L656.70,491.65 L657.33,492.27 L656.70,492.90 M663.58,489.15 L664.20,491.02 L664.20,492.90 L663.58,494.15 L662.95,494.77 L661.70,495.40 M353.65,508.55 L346.77,517.30 M354.27,508.55 L347.40,517.30 M347.40,508.55 L346.77,511.05 L346.77,508.55 L354.27,508.55 M346.77,517.30 L354.27,517.30 L354.27,514.80 L353.65,517.30 M358.65,501.67 L358.65,521.67 M359.27,501.67 L359.27,521.67 M358.65,501.67 L363.02,501.67 M358.65,521.67 L363.02,521.67 M368.02,504.17 L368.02,517.30 M368.65,504.17 L368.65,517.30 M374.90,508.55 L368.65,514.80 M371.77,512.30 L375.52,517.30 M371.15,512.30 L374.90,517.30 M366.15,504.17 L368.65,504.17 M373.02,508.55 L376.77,508.55 M366.15,517.30 L370.52,517.30 M373.02,517.30 L376.77,517.30 M381.15,508.55 L381.15,521.67 M381.77,508.55 L381.77,521.67 M381.77,510.42 L383.02,509.17 L384.27,508.55 L385.52,508.55 L387.40,509.17 L388.65,510.42 L389.27,512.30 L389.27,513.55 L388.65,515.42 L387.40,516.67 L385.52,517.30 L384.27,517.30 L383.02,516.67 L381.77,515.42 M385.52,508.55 L386.77,509.17 L388.02,510.42 L388.65,512.30 L388.65,513.55 L388.02,515.42 L386.77,516.67 L385.52,517.30 M379.27,508.55 L381.77,508.55 M379.27,521.67 L383.65,521.67 M400.52,510.42 L399.90,511.05 L400.52,511.67 L401.15,511.05 L401.15,510.42 L399.90,509.17 L398.65,508.55 L396.77,508.55 L394.90,509.17 L393.65,510.42 L393.02,512.30 L393.02,513.55 L393.65,515.42 L394.90,516.67 L396.77,517.30 L398.02,517.30 L399.90,516.67 L401.15,515.42 M396.77,508.55 L395.52,509.17 L394.27,510.42 L393.65,512.30 L393.65,513.55 L394.27,515.42 L395.52,516.67 L396.77,517.30 M408.65,501.67 L408.65,521.67 M409.27,501.67 L409.27,521.67 M404.90,501.67 L409.27,501.67 M404.90,521.67 L409.27,521.67 M17.88,309.60 L19.75,308.98 L20.38,308.35 L21.00,307.10 L21.00,305.85 L20.38,303.98 L18.50,302.73 L16.62,302.10 L14.75,302.10 L13.50,302.73 L12.88,303.35 L12.25,304.60 L12.25,305.85 L12.88,307.73 L14.75,308.98 L16.62,309.60 L25.38,312.10 M21.00,305.85 L20.38,304.60 L18.50,303.35 L16.62,302.73 L14.12,302.73 L12.88,303.35 M12.25,305.85 L12.88,307.10 L14.75,308.35 L16.62,308.98 L25.38,311.48 M5.38,297.73 L25.38,297.73 M5.38,297.10 L25.38,297.10 M5.38,297.73 L5.38,293.35 M25.38,297.73 L25.38,293.35 M7.88,288.35 L21.00,288.35 M7.88,287.73 L19.12,283.98 M7.88,288.35 L21.00,283.98 M7.88,279.60 L21.00,283.98 M7.88,279.60 L21.00,279.60 M7.88,278.98 L21.00,278.98 M7.88,290.23 L7.88,287.73 M7.88,279.60 L7.88,277.10 M21.00,290.23 L21.00,286.48 M21.00,281.48 L21.00,277.10 M13.50,267.73 L12.25,267.10 L14.75,267.10 L13.50,267.73 L12.88,268.35 L12.25,269.60 L12.25,272.10 L12.88,273.35 L13.50,273.98 L14.75,273.98 L15.38,273.35 L16.00,272.10 L17.25,268.98 L17.88,267.73 L18.50,267.10 M14.12,273.98 L14.75,273.35 L15.38,272.10 L16.62,268.98 L17.25,267.73 L17.88,267.10 L19.75,267.10 L20.38,267.73 L21.00,268.98 L21.00,271.48 L20.38,272.73 L19.75,273.35 L18.50,273.98 L21.00,273.98 L19.75,273.35 M12.25,262.10 L19.12,262.10 L20.38,261.48 L21.00,259.60 L21.00,258.35 L20.38,256.48 L19.12,255.23 M12.25,261.48 L19.12,261.48 L20.38,260.85 L21.00,259.60 M12.25,255.23 L21.00,255.23 M12.25,254.60 L21.00,254.60 M12.25,263.98 L12.25,261.48 M12.25,257.10 L12.25,254.60 M21.00,255.23 L21.00,252.73 M12.25,248.35 L21.00,248.35 M12.25,247.73 L21.00,247.73 M14.12,247.73 L12.88,246.48 L12.25,244.60 L12.25,243.35 L12.88,241.48 L14.12,240.85 L21.00,240.85 M12.25,243.35 L12.88,242.10 L14.12,241.48 L21.00,241.48 M12.25,250.23 L12.25,247.73 M21.00,250.23 L21.00,245.85 M21.00,243.35 L21.00,238.98 M5.38,225.23 L25.38,236.48 M12.25,220.85 L25.38,220.85 M12.25,220.23 L25.38,220.23 M14.12,220.23 L12.88,218.98 L12.25,217.73 L12.25,216.48 L12.88,214.60 L14.12,213.35 L16.00,212.73 L17.25,212.73 L19.12,213.35 L20.38,214.60 L21.00,216.48 L21.00,217.73 L20.38,218.98 L19.12,220.23 M12.25,216.48 L12.88,215.23 L14.12,213.98 L16.00,213.35 L17.25,213.35 L19.12,213.98 L20.38,215.23 L21.00,216.48 M12.25,222.73 L12.25,220.23 M25.38,222.73 L25.38,218.35 M14.12,201.48 L14.75,202.10 L15.38,201.48 L14.75,200.85 L14.12,200.85 L12.88,202.10 L12.25,203.35 L12.25,205.23 L12.88,207.10 L14.12,208.35 L16.00,208.98 L17.25,208.98 L19.12,208.35 L20.38,207.10 L21.00,205.23 L21.00,203.98 L20.38,202.10 L19.12,200.85 M12.25,205.23 L12.88,206.48 L14.12,207.73 L16.00,208.35 L17.25,208.35 L19.12,207.73 L20.38,206.48 L21.00,205.23 M2.03,197.48 L2.40,197.10 L2.78,197.48 L2.40,197.85 L2.03,197.85 L1.28,197.48 L0.90,197.10 L0.53,195.98 L0.53,194.48 L0.90,193.35 L1.65,192.98 L2.78,192.98 L3.53,193.35 L3.90,194.48 L3.90,195.60 M0.53,194.48 L0.90,193.73 L1.65,193.35 L2.78,193.35 L3.53,193.73 L3.90,194.48 M3.90,194.48 L4.28,193.73 L5.03,192.98 L5.78,192.60 L6.90,192.60 L7.65,192.98 L8.03,193.35 L8.40,194.48 L8.40,195.98 L8.03,197.10 L7.65,197.48 L6.90,197.85 L6.53,197.85 L6.15,197.48 L6.53,197.10 L6.90,197.48 M4.65,193.35 L5.78,192.98 L6.90,192.98 L7.65,193.35 L8.03,193.73 L8.40,194.48 M5.38,185.85 L25.38,185.85 M5.38,185.23 L25.38,185.23 M5.38,189.60 L5.38,185.23 M25.38,189.60 L25.38,185.23 M512.88,51.88 L512.88,65.00 M513.50,51.88 L513.50,65.00 M511.00,51.88 L518.50,51.88 L520.38,52.50 L521.00,53.12 L521.62,54.38 L521.62,55.62 L521.00,56.88 L520.38,57.50 L518.50,58.12 L513.50,58.12 M518.50,51.88 L519.75,52.50 L520.38,53.12 L521.00,54.38 L521.00,55.62 L520.38,56.88 L519.75,57.50 L518.50,58.12 M511.00,65.00 L515.38,65.00 M516.62,58.12 L517.88,58.75 L518.50,59.38 L520.38,63.75 L521.00,64.38 L521.62,64.38 L522.25,63.75 M517.88,58.75 L518.50,60.00 L519.75,64.38 L520.38,65.00 L521.62,65.00 L522.25,63.75 L522.25,63.12 M536.00,57.50 L547.25,57.50 M536.00,61.25 L547.25,61.25 M574.75,51.88 L572.88,52.50 L572.25,53.75 L572.25,55.62 L572.88,56.88 L574.75,57.50 L577.25,57.50 L579.12,56.88 L579.75,55.62 L579.75,53.75 L579.12,52.50 L577.25,51.88 L574.75,51.88 M574.75,51.88 L573.50,52.50 L572.88,53.75 L572.88,55.62 L573.50,56.88 L574.75,57.50 M577.25,57.50 L578.50,56.88 L579.12,55.62 L579.12,53.75 L578.50,52.50 L577.25,51.88 M574.75,57.50 L572.88,58.12 L572.25,58.75 L571.62,60.00 L571.62,62.50 L572.25,63.75 L572.88,64.38 L574.75,65.00 L577.25,65.00 L579.12,64.38 L579.75,63.75 L580.38,62.50 L580.38,60.00 L579.75,58.75 L579.12,58.12 L577.25,57.50 M574.75,57.50 L573.50,58.12 L572.88,58.75 L572.25,60.00 L572.25,62.50 L572.88,63.75 L573.50,64.38 L574.75,65.00 M577.25,65.00 L578.50,64.38 L579.12,63.75 L579.75,62.50 L579.75,60.00 L579.12,58.75 L578.50,58.12 L577.25,57.50 M585.38,63.75 L584.75,64.38 L585.38,65.00 L586.00,64.38 L585.38,63.75 M591.00,54.38 L591.62,55.00 L591.00,55.62 L590.38,55.00 L590.38,54.38 L591.00,53.12 L591.62,52.50 L593.50,51.88 L596.00,51.88 L597.88,52.50 L598.50,53.12 L599.12,54.38 L599.12,55.62 L598.50,56.88 L596.62,58.12 L593.50,59.38 L592.25,60.00 L591.00,61.25 L590.38,63.12 L590.38,65.00 M596.00,51.88 L597.25,52.50 L597.88,53.12 L598.50,54.38 L598.50,55.62 L597.88,56.88 L596.00,58.12 L593.50,59.38 M590.38,63.75 L591.00,63.12 L592.25,63.12 L595.38,64.38 L597.25,64.38 L598.50,63.75 L599.12,63.12 M592.25,63.12 L595.38,65.00 L597.88,65.00 L598.50,64.38 L599.12,63.12 L599.12,61.88 M602.88,51.88 L602.88,55.62 M602.88,54.38 L603.50,53.12 L604.75,51.88 L606.00,51.88 L609.12,53.75 L610.38,53.75 L611.00,53.12 L611.62,51.88 M603.50,53.12 L604.75,52.50 L606.00,52.50 L609.12,53.75 M611.62,51.88 L611.62,53.75 L611.00,55.62 L608.50,58.75 L607.88,60.00 L607.25,61.88 L607.25,65.00 M611.00,55.62 L607.88,58.75 L607.25,60.00 L606.62,61.88 L606.62,65.00 M460.15,73.08 L460.15,83.70 L459.52,85.58 L458.27,86.20 L457.02,86.20 L455.77,85.58 L455.15,84.33 L455.15,83.08 L455.77,82.45 L456.40,83.08 L455.77,83.70 M459.52,73.08 L459.52,83.70 L458.90,85.58 L458.27,86.20 M457.65,73.08 L462.02,73.08 M466.40,77.45 L466.40,84.33 L467.02,85.58 L468.90,86.20 L470.15,86.20 L472.02,85.58 L473.27,84.33 M467.02,77.45 L467.02,84.33 L467.65,85.58 L468.90,86.20 M473.27,77.45 L473.27,86.20 M473.90,77.45 L473.90,86.20 M464.52,77.45 L467.02,77.45 M471.40,77.45 L473.90,77.45 M473.27,86.20 L475.77,86.20 M480.15,77.45 L480.15,86.20 M480.77,77.45 L480.77,86.20 M480.77,81.20 L481.40,79.33 L482.65,78.08 L483.90,77.45 L485.77,77.45 L486.40,78.08 L486.40,78.70 L485.77,79.33 L485.15,78.70 L485.77,78.08 M478.27,77.45 L480.77,77.45 M478.27,86.20 L482.65,86.20 M490.77,73.08 L490.15,73.70 L490.77,74.33 L491.40,73.70 L490.77,73.08 M490.77,77.45 L490.77,86.20 M491.40,77.45 L491.40,86.20 M488.90,77.45 L491.40,77.45 M488.90,86.20 L493.27,86.20 M503.90,79.33 L503.27,79.95 L503.90,80.58 L504.52,79.95 L504.52,79.33 L503.27,78.08 L502.02,77.45 L500.15,77.45 L498.27,78.08 L497.02,79.33 L496.40,81.20 L496.40,82.45 L497.02,84.33 L498.27,85.58 L500.15,86.20 L501.40,86.20 L503.27,85.58 L504.52,84.33 M500.15,77.45 L498.90,78.08 L497.65,79.33 L497.02,81.20 L497.02,82.45 L497.65,84.33 L498.90,85.58 L500.15,86.20 M524.52,74.95 L524.52,86.20 M518.90,80.58 L530.15,80.58 M545.15,75.58 L545.77,76.20 L545.15,76.83 L544.52,76.20 L544.52,75.58 L545.15,74.33 L545.77,73.70 L547.65,73.08 L550.15,73.08 L552.02,73.70 L552.65,74.33 L553.27,75.58 L553.27,76.83 L552.65,78.08 L550.77,79.33 L547.65,80.58 L546.40,81.20 L545.15,82.45 L544.52,84.33 L544.52,86.20 M550.15,73.08 L551.40,73.70 L552.02,74.33 L552.65,75.58 L552.65,76.83 L552.02,78.08 L550.15,79.33 L547.65,80.58 M544.52,84.95 L545.15,84.33 L546.40,84.33 L549.52,85.58 L551.40,85.58 L552.65,84.95 L553.27,84.33 M546.40,84.33 L549.52,86.20 L552.02,86.20 L552.65,85.58 L553.27,84.33 L553.27,83.08 M560.77,73.08 L558.90,73.70 L557.65,75.58 L557.02,78.70 L557.02,80.58 L557.65,83.70 L558.90,85.58 L560.77,86.20 L562.02,86.20 L563.90,85.58 L565.15,83.70 L565.77,80.58 L565.77,78.70 L565.15,75.58 L563.90,73.70 L562.02,73.08 L560.77,73.08 M560.77,73.08 L559.52,73.70 L558.90,74.33 L558.27,75.58 L557.65,78.70 L557.65,80.58 L558.27,83.70 L558.90,84.95 L559.52,85.58 L560.77,86.20 M562.02,86.20 L563.27,85.58 L563.90,84.95 L564.52,83.70 L565.15,80.58 L565.15,78.70 L564.52,75.58 L563.90,74.33 L563.27,73.70 L562.02,73.08 M573.27,73.08 L571.40,73.70 L570.15,75.58 L569.52,78.70 L569.52,80.58 L570.15,83.70 L571.40,85.58 L573.27,86.20 L574.52,86.20 L576.40,85.58 L577.65,83.70 L578.27,80.58 L578.27,78.70 L577.65,75.58 L576.40,73.70 L574.52,73.08 L573.27,73.08 M573.27,73.08 L572.02,73.70 L571.40,74.33 L570.77,75.58 L570.15,78.70 L570.15,80.58 L570.77,83.70 L571.40,84.95 L572.02,85.58 L573.27,86.20 M574.52,86.20 L575.77,85.58 L576.40,84.95 L577.02,83.70 L577.65,80.58 L577.65,78.70 L577.02,75.58 L576.40,74.33 L575.77,73.70 L574.52,73.08 M585.15,73.08 L583.27,73.70 L582.65,74.95 L582.65,76.83 L583.27,78.08 L585.15,78.70 L587.65,78.70 L589.52,78.08 L590.15,76.83 L590.15,74.95 L589.52,73.70 L587.65,73.08 L585.15,73.08 M585.15,73.08 L583.90,73.70 L583.27,74.95 L583.27,76.83 L583.90,78.08 L585.15,78.70 M587.65,78.70 L588.90,78.08 L589.52,76.83 L589.52,74.95 L588.90,73.70 L587.65,73.08 M585.15,78.70 L583.27,79.33 L582.65,79.95 L582.02,81.20 L582.02,83.70 L582.65,84.95 L583.27,85.58 L585.15,86.20 L587.65,86.20 L589.52,85.58 L590.15,84.95 L590.77,83.70 L590.77,81.20 L590.15,79.95 L589.52,79.33 L587.65,78.70 M585.15,78.70 L583.90,79.33 L583.27,79.95 L582.65,81.20 L582.65,83.70 L583.27,84.95 L583.90,85.58 L585.15,86.20 M587.65,86.20 L588.90,85.58 L589.52,84.95 L590.15,83.70 L590.15,81.20 L589.52,79.95 L588.90,79.33 L587.65,78.70" fill="none" stroke="#000" stroke-width="1.0" stroke-linecap="round" stroke-linejoin="round"/>
<path d="M464.52,95.35 L465.15,97.22 L465.15,93.47 L464.52,95.35 L463.27,94.10 L461.40,93.47 L460.15,93.47 L458.27,94.10 L457.02,95.35 L456.40,96.60 L455.77,98.47 L455.77,101.60 L456.40,103.47 L457.02,104.72 L458.27,105.97 L460.15,106.60 L461.40,106.60 L463.27,105.97 L464.52,104.72 M460.15,93.47 L458.90,94.10 L457.65,95.35 L457.02,96.60 L456.40,98.47 L456.40,101.60 L457.02,103.47 L457.65,104.72 L458.90,105.97 L460.15,106.60 M464.52,101.60 L464.52,106.60 M465.15,101.60 L465.15,106.60 M462.65,101.60 L467.02,101.60 M471.40,93.47 L470.77,94.10 L471.40,94.72 L472.02,94.10 L471.40,93.47 M471.40,97.85 L471.40,106.60 M472.02,97.85 L472.02,106.60 M469.52,97.85 L472.02,97.85 M469.52,106.60 L473.90,106.60 M478.27,93.47 L478.27,106.60 M478.90,93.47 L478.90,106.60 M476.40,93.47 L478.90,93.47 M476.40,106.60 L480.77,106.60 M485.15,97.85 L485.15,106.60 M485.77,97.85 L485.77,106.60 M485.77,99.72 L487.02,98.47 L488.90,97.85 L490.15,97.85 L492.02,98.47 L492.65,99.72 L492.65,106.60 M490.15,97.85 L491.40,98.47 L492.02,99.72 L492.02,106.60 M492.65,99.72 L493.90,98.47 L495.77,97.85 L497.02,97.85 L498.90,98.47 L499.52,99.72 L499.52,106.60 M497.02,97.85 L498.27,98.47 L498.90,99.72 L498.90,106.60 M483.27,97.85 L485.77,97.85 M483.27,106.60 L487.65,106.60 M490.15,106.60 L494.52,106.60 M497.02,106.60 L501.40,106.60 M508.27,97.85 L506.40,98.47 L505.15,99.72 L504.52,101.60 L504.52,102.85 L505.15,104.72 L506.40,105.97 L508.27,106.60 L509.52,106.60 L511.40,105.97 L512.65,104.72 L513.27,102.85 L513.27,101.60 L512.65,99.72 L511.40,98.47 L509.52,97.85 L508.27,97.85 M508.27,97.85 L507.02,98.47 L505.77,99.72 L505.15,101.60 L505.15,102.85 L505.77,104.72 L507.02,105.97 L508.27,106.60 M509.52,106.60 L510.77,105.97 L512.02,104.72 L512.65,102.85 L512.65,101.60 L512.02,99.72 L510.77,98.47 L509.52,97.85 M518.27,97.85 L518.27,106.60 M518.90,97.85 L518.90,106.60 M518.90,101.60 L519.52,99.72 L520.77,98.47 L522.02,97.85 L523.90,97.85 L524.52,98.47 L524.52,99.10 L523.90,99.72 L523.27,99.10 L523.90,98.47 M516.40,97.85 L518.90,97.85 M516.40,106.60 L520.77,106.60 M528.27,101.60 L535.77,101.60 L535.77,100.35 L535.15,99.10 L534.52,98.47 L533.27,97.85 L531.40,97.85 L529.52,98.47 L528.27,99.72 L527.65,101.60 L527.65,102.85 L528.27,104.72 L529.52,105.97 L531.40,106.60 L532.65,106.60 L534.52,105.97 L535.77,104.72 M535.15,101.60 L535.15,99.72 L534.52,98.47 M531.40,97.85 L530.15,98.47 L528.90,99.72 L528.27,101.60 L528.27,102.85 L528.90,104.72 L530.15,105.97 L531.40,106.60 M540.15,100.97 L551.40,100.97 M557.02,93.47 L557.02,106.60 M557.65,93.47 L557.65,106.60 M555.15,93.47 L562.65,93.47 L564.52,94.10 L565.15,94.72 L565.77,95.97 L565.77,97.22 L565.15,98.47 L564.52,99.10 L562.65,99.72 L557.65,99.72 M562.65,93.47 L563.90,94.10 L564.52,94.72 L565.15,95.97 L565.15,97.22 L564.52,98.47 L563.90,99.10 L562.65,99.72 M555.15,106.60 L559.52,106.60 M560.77,99.72 L562.02,100.35 L562.65,100.97 L564.52,105.35 L565.15,105.97 L565.77,105.97 L566.40,105.35 M562.02,100.35 L562.65,101.60 L563.90,105.97 L564.52,106.60 L565.77,106.60 L566.40,105.35 L566.40,104.72 M570.15,101.60 L577.65,101.60 L577.65,100.35 L577.02,99.10 L576.40,98.47 L575.15,97.85 L573.27,97.85 L571.40,98.47 L570.15,99.72 L569.52,101.60 L569.52,102.85 L570.15,104.72 L571.40,105.97 L573.27,106.60 L574.52,106.60 L576.40,105.97 L577.65,104.72 M577.02,101.60 L577.02,99.72 L576.40,98.47 M573.27,97.85 L572.02,98.47 L570.77,99.72 L570.15,101.60 L570.15,102.85 L570.77,104.72 L572.02,105.97 L573.27,106.60 M582.65,93.47 L582.02,94.10 L582.65,94.72 L583.27,94.10 L582.65,93.47 M582.65,97.85 L582.65,106.60 M583.27,97.85 L583.27,106.60 M580.77,97.85 L583.27,97.85 M580.77,106.60 L585.15,106.60 M595.77,93.47 L595.77,106.60 M596.40,93.47 L596.40,106.60 M595.77,99.72 L594.52,98.47 L593.27,97.85 L592.02,97.85 L590.15,98.47 L588.90,99.72 L588.27,101.60 L588.27,102.85 L588.90,104.72 L590.15,105.97 L592.02,106.60 L593.27,106.60 L594.52,105.97 L595.77,104.72 M592.02,97.85 L590.77,98.47 L589.52,99.72 L588.90,101.60 L588.90,102.85 L589.52,104.72 L590.77,105.97 L592.02,106.60 M593.90,93.47 L596.40,93.47 M595.77,106.60 L598.27,106.60 M614.52,93.47 L612.65,94.10 L612.02,95.35 L612.02,97.22 L612.65,98.47 L614.52,99.10 L617.02,99.10 L618.90,98.47 L619.52,97.22 L619.52,95.35 L618.90,94.10 L617.02,93.47 L614.52,93.47 M614.52,93.47 L613.27,94.10 L612.65,95.35 L612.65,97.22 L613.27,98.47 L614.52,99.10 M617.02,99.10 L618.27,98.47 L618.90,97.22 L618.90,95.35 L618.27,94.10 L617.02,93.47 M614.52,99.10 L612.65,99.72 L612.02,100.35 L611.40,101.60 L611.40,104.10 L612.02,105.35 L612.65,105.97 L614.52,106.60 L617.02,106.60 L618.90,105.97 L619.52,105.35 L620.15,104.10 L620.15,101.60 L619.52,100.35 L618.90,99.72 L617.02,99.10 M614.52,99.10 L613.27,99.72 L612.65,100.35 L612.02,101.60 L612.02,104.10 L612.65,105.35 L613.27,105.97 L614.52,106.60 M617.02,106.60 L618.27,105.97 L618.90,105.35 L619.52,104.10 L619.52,101.60 L618.90,100.35 L618.27,99.72 L617.02,99.10 M624.52,95.97 L625.15,96.60 L624.52,97.22 L623.90,96.60 L623.90,95.97 L624.52,94.72 L625.15,94.10 L627.02,93.47 L629.52,93.47 L631.40,94.10 L632.02,95.35 L632.02,97.22 L631.40,98.47 L629.52,99.10 L627.65,99.10 M629.52,93.47 L630.77,94.10 L631.40,95.35 L631.40,97.22 L630.77,98.47 L629.52,99.10 M629.52,99.10 L630.77,99.72 L632.02,100.97 L632.65,102.22 L632.65,104.10 L632.02,105.35 L631.40,105.97 L629.52,106.60 L627.02,106.60 L625.15,105.97 L624.52,105.35 L623.90,104.10 L623.90,103.47 L624.52,102.85 L625.15,103.47 L624.52,104.10 M631.40,100.35 L632.02,102.22 L632.02,104.10 L631.40,105.35 L630.77,105.97 L629.52,106.60" fill="none" stroke="#f00" stroke-width="1.0" stroke-linecap="round" stroke-linejoin="round"/>
<g>
</g>
</svg>
</body></html>
